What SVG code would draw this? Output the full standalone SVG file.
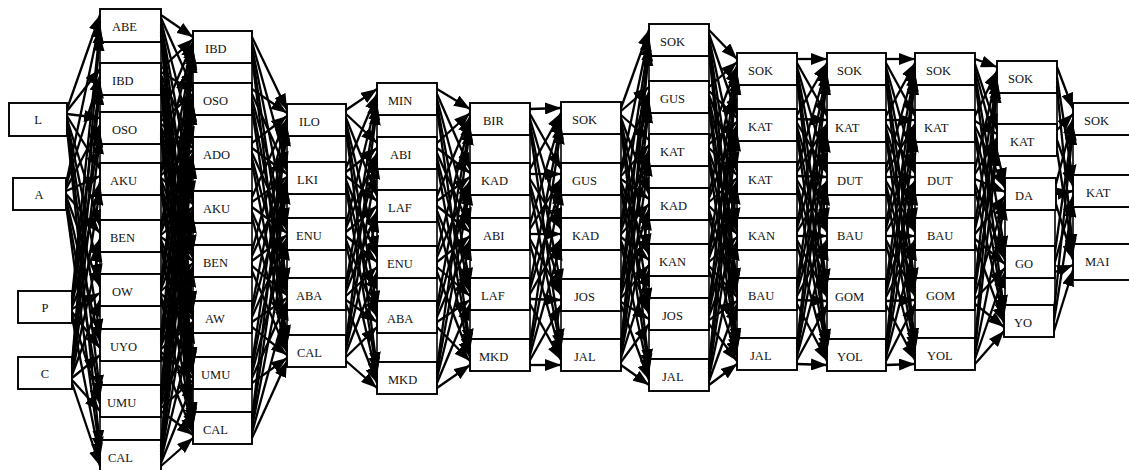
<svg xmlns="http://www.w3.org/2000/svg" width="1129" height="470" viewBox="0 0 1129 470" font-family="Liberation Serif, Times New Roman, serif">
<style>
  .n rect { fill: #fff; stroke: #000; stroke-width: 1.9; }
  .gap { fill: #fff; stroke: #000; stroke-width: 1.6; }
  text { font-family: "Liberation Serif", "Times New Roman", "DejaVu Serif", serif; font-size: 12.5px; fill: #111; }
  .c { text-anchor: middle; }
  #edges line { stroke: #000; stroke-width: 2.3; marker-end: url(#ah); }
</style>
<defs>
  <marker id="ah" markerUnits="userSpaceOnUse" markerWidth="17" markerHeight="12" refX="16" refY="6" orient="auto">
    <path d="M0,0 L16,6 L0,12 z" fill="#000"/>
  </marker>
</defs>
<rect width="1129" height="470" fill="#fff"/>

<!-- spacer cells stacked between the boxes of each column -->
<g id="gaps">
  <rect class="gap" x="100" y="42" width="61" height="21"/>
  <rect class="gap" x="100" y="95" width="61" height="17"/>
  <rect class="gap" x="100" y="144" width="61" height="19"/>
  <rect class="gap" x="100" y="195" width="61" height="25"/>
  <rect class="gap" x="100" y="252" width="61" height="22"/>
  <rect class="gap" x="100" y="306" width="61" height="23"/>
  <rect class="gap" x="100" y="361" width="61" height="24"/>
  <rect class="gap" x="100" y="417" width="61" height="23"/>

  <rect class="gap" x="193" y="63" width="59" height="20"/>
  <rect class="gap" x="193" y="115" width="59" height="22"/>
  <rect class="gap" x="193" y="169" width="59" height="22"/>
  <rect class="gap" x="193" y="223" width="59" height="22"/>
  <rect class="gap" x="193" y="277" width="59" height="24"/>
  <rect class="gap" x="193" y="333" width="59" height="24"/>
  <rect class="gap" x="193" y="389" width="59" height="23"/>

  <rect class="gap" x="287" y="136" width="59" height="26"/>
  <rect class="gap" x="287" y="194" width="59" height="24"/>
  <rect class="gap" x="287" y="250" width="59" height="28"/>
  <rect class="gap" x="287" y="310" width="59" height="25"/>

  <rect class="gap" x="377" y="115" width="60" height="22"/>
  <rect class="gap" x="377" y="169" width="60" height="21"/>
  <rect class="gap" x="377" y="222" width="60" height="24"/>
  <rect class="gap" x="377" y="278" width="60" height="23"/>
  <rect class="gap" x="377" y="333" width="60" height="29"/>

  <rect class="gap" x="470" y="135" width="60" height="28"/>
  <rect class="gap" x="470" y="195" width="60" height="23"/>
  <rect class="gap" x="470" y="250" width="60" height="28"/>
  <rect class="gap" x="470" y="310" width="60" height="29"/>

  <rect class="gap" x="561" y="134" width="60" height="29"/>
  <rect class="gap" x="561" y="195" width="60" height="23"/>
  <rect class="gap" x="561" y="250" width="60" height="29"/>
  <rect class="gap" x="561" y="311" width="60" height="28"/>

  <rect class="gap" x="649" y="56" width="60" height="25"/>
  <rect class="gap" x="649" y="113" width="60" height="21"/>
  <rect class="gap" x="649" y="166" width="60" height="22"/>
  <rect class="gap" x="649" y="220" width="60" height="24"/>
  <rect class="gap" x="649" y="276" width="60" height="22"/>
  <rect class="gap" x="649" y="330" width="60" height="29"/>

  <rect class="gap" x="737" y="85" width="60" height="24"/>
  <rect class="gap" x="737" y="141" width="60" height="21"/>
  <rect class="gap" x="737" y="194" width="60" height="24"/>
  <rect class="gap" x="737" y="250" width="60" height="28"/>
  <rect class="gap" x="737" y="310" width="60" height="28"/>

  <rect class="gap" x="827" y="85" width="59" height="25"/>
  <rect class="gap" x="827" y="142" width="59" height="21"/>
  <rect class="gap" x="827" y="195" width="59" height="23"/>
  <rect class="gap" x="827" y="250" width="59" height="29"/>
  <rect class="gap" x="827" y="311" width="59" height="28"/>

  <rect class="gap" x="915" y="85" width="60" height="25"/>
  <rect class="gap" x="915" y="142" width="60" height="21"/>
  <rect class="gap" x="915" y="195" width="60" height="23"/>
  <rect class="gap" x="915" y="250" width="60" height="28"/>
  <rect class="gap" x="915" y="310" width="60" height="28"/>

  <rect class="gap" x="997" y="93" width="60" height="31"/>
  <rect class="gap" x="1005" y="210" width="50" height="36"/>
  <rect class="gap" x="1005" y="278" width="50" height="27"/>

  <rect class="gap" x="1073" y="135" width="58" height="40"/>
  <rect class="gap" x="1073" y="207" width="58" height="37"/>
</g>

<!-- inputs -->
<g id="in-L" class="n"><rect x="9" y="103" width="58" height="33"/><text class="c" x="38" y="124">L</text></g>
<g id="in-A" class="n"><rect x="13" y="178" width="53" height="32"/><text class="c" x="39" y="199">A</text></g>
<g id="in-P" class="n"><rect x="18" y="291" width="54" height="32"/><text class="c" x="45" y="312">P</text></g>
<g id="in-C" class="n"><rect x="18" y="357" width="54" height="32"/><text class="c" x="45" y="378">C</text></g>

<!-- column 2 -->
<g id="c2-ABE" class="n"><rect x="100" y="9" width="61" height="33"/><text x="112" y="31">ABE</text></g>
<g id="c2-IBD" class="n"><rect x="100" y="63" width="61" height="32"/><text x="112" y="85">IBD</text></g>
<g id="c2-OSO" class="n"><rect x="100" y="112" width="61" height="32"/><text x="112" y="134">OSO</text></g>
<g id="c2-AKU" class="n"><rect x="100" y="163" width="61" height="32"/><text x="110" y="185">AKU</text></g>
<g id="c2-BEN" class="n"><rect x="100" y="220" width="61" height="32"/><text x="110" y="242">BEN</text></g>
<g id="c2-OW" class="n"><rect x="100" y="274" width="61" height="32"/><text x="112" y="296">OW</text></g>
<g id="c2-UYO" class="n"><rect x="100" y="329" width="61" height="32"/><text x="110" y="351">UYO</text></g>
<g id="c2-UMU" class="n"><rect x="100" y="385" width="61" height="32"/><text x="107" y="407">UMU</text></g>
<g id="c2-CAL" class="n"><rect x="100" y="440" width="61" height="34"/><text x="108" y="462">CAL</text></g>

<!-- column 3 -->
<g id="c3-IBD" class="n"><rect x="193" y="31" width="59" height="32"/><text x="205" y="53">IBD</text></g>
<g id="c3-OSO" class="n"><rect x="193" y="83" width="59" height="32"/><text x="203" y="105">OSO</text></g>
<g id="c3-ADO" class="n"><rect x="193" y="137" width="59" height="32"/><text x="203" y="159">ADO</text></g>
<g id="c3-AKU" class="n"><rect x="193" y="191" width="59" height="32"/><text x="203" y="213">AKU</text></g>
<g id="c3-BEN" class="n"><rect x="193" y="245" width="59" height="32"/><text x="203" y="267">BEN</text></g>
<g id="c3-AW" class="n"><rect x="193" y="301" width="59" height="32"/><text x="205" y="323">AW</text></g>
<g id="c3-UMU" class="n"><rect x="193" y="357" width="59" height="32"/><text x="201" y="379">UMU</text></g>
<g id="c3-CAL" class="n"><rect x="193" y="412" width="59" height="32"/><text x="203" y="434">CAL</text></g>

<!-- column 4 -->
<g id="c4-ILO" class="n"><rect x="287" y="104" width="59" height="32"/><text x="299" y="126">ILO</text></g>
<g id="c4-LKI" class="n"><rect x="287" y="162" width="59" height="32"/><text x="297" y="184">LKI</text></g>
<g id="c4-ENU" class="n"><rect x="287" y="218" width="59" height="32"/><text x="296" y="240">ENU</text></g>
<g id="c4-ABA" class="n"><rect x="287" y="278" width="59" height="32"/><text x="296" y="300">ABA</text></g>
<g id="c4-CAL" class="n"><rect x="287" y="335" width="59" height="32"/><text x="297" y="357">CAL</text></g>

<!-- column 5 -->
<g id="c5-MIN" class="n"><rect x="377" y="83" width="60" height="32"/><text x="388" y="105">MIN</text></g>
<g id="c5-ABI" class="n"><rect x="377" y="137" width="60" height="32"/><text x="390" y="159">ABI</text></g>
<g id="c5-LAF" class="n"><rect x="377" y="190" width="60" height="32"/><text x="388" y="212">LAF</text></g>
<g id="c5-ENU" class="n"><rect x="377" y="246" width="60" height="32"/><text x="387" y="268">ENU</text></g>
<g id="c5-ABA" class="n"><rect x="377" y="301" width="60" height="32"/><text x="387" y="323">ABA</text></g>
<g id="c5-MKD" class="n"><rect x="377" y="362" width="60" height="32"/><text x="388" y="384">MKD</text></g>

<!-- column 6 -->
<g id="c6-BIR" class="n"><rect x="470" y="103" width="60" height="32"/><text x="483" y="125">BIR</text></g>
<g id="c6-KAD" class="n"><rect x="470" y="163" width="60" height="32"/><text x="481" y="185">KAD</text></g>
<g id="c6-ABI" class="n"><rect x="470" y="218" width="60" height="32"/><text x="483" y="240">ABI</text></g>
<g id="c6-LAF" class="n"><rect x="470" y="278" width="60" height="32"/><text x="481" y="300">LAF</text></g>
<g id="c6-MKD" class="n"><rect x="470" y="339" width="60" height="32"/><text x="479" y="361">MKD</text></g>

<!-- column 7 -->
<g id="c7-SOK" class="n"><rect x="561" y="102" width="60" height="32"/><text x="572" y="124">SOK</text></g>
<g id="c7-GUS" class="n"><rect x="561" y="163" width="60" height="32"/><text x="572" y="185">GUS</text></g>
<g id="c7-KAD" class="n"><rect x="561" y="218" width="60" height="32"/><text x="572" y="240">KAD</text></g>
<g id="c7-JOS" class="n"><rect x="561" y="279" width="60" height="32"/><text x="574" y="301">JOS</text></g>
<g id="c7-JAL" class="n"><rect x="561" y="339" width="60" height="32"/><text x="574" y="361">JAL</text></g>

<!-- column 8 -->
<g id="c8-SOK" class="n"><rect x="649" y="24" width="60" height="32"/><text x="660" y="46">SOK</text></g>
<g id="c8-GUS" class="n"><rect x="649" y="81" width="60" height="32"/><text x="660" y="103">GUS</text></g>
<g id="c8-KAT" class="n"><rect x="649" y="134" width="60" height="32"/><text x="660" y="156">KAT</text></g>
<g id="c8-KAD" class="n"><rect x="649" y="188" width="60" height="32"/><text x="660" y="210">KAD</text></g>
<g id="c8-KAN" class="n"><rect x="649" y="244" width="60" height="32"/><text x="659" y="266">KAN</text></g>
<g id="c8-JOS" class="n"><rect x="649" y="298" width="60" height="32"/><text x="662" y="320">JOS</text></g>
<g id="c8-JAL" class="n"><rect x="649" y="359" width="60" height="32"/><text x="662" y="381">JAL</text></g>

<!-- column 9 -->
<g id="c9-SOK" class="n"><rect x="737" y="53" width="60" height="32"/><text x="748" y="75">SOK</text></g>
<g id="c9-KAT1" class="n"><rect x="737" y="109" width="60" height="32"/><text x="748" y="131">KAT</text></g>
<g id="c9-KAT2" class="n"><rect x="737" y="162" width="60" height="32"/><text x="748" y="184">KAT</text></g>
<g id="c9-KAN" class="n"><rect x="737" y="218" width="60" height="32"/><text x="748" y="240">KAN</text></g>
<g id="c9-BAU" class="n"><rect x="737" y="278" width="60" height="32"/><text x="748" y="300">BAU</text></g>
<g id="c9-JAL" class="n"><rect x="737" y="338" width="60" height="32"/><text x="750" y="360">JAL</text></g>

<!-- column 10 -->
<g id="c10-SOK" class="n"><rect x="827" y="53" width="59" height="32"/><text x="837" y="75">SOK</text></g>
<g id="c10-KAT" class="n"><rect x="827" y="110" width="59" height="32"/><text x="835" y="132">KAT</text></g>
<g id="c10-DUT" class="n"><rect x="827" y="163" width="59" height="32"/><text x="837" y="185">DUT</text></g>
<g id="c10-BAU" class="n"><rect x="827" y="218" width="59" height="32"/><text x="837" y="240">BAU</text></g>
<g id="c10-GOM" class="n"><rect x="827" y="279" width="59" height="32"/><text x="835" y="301">GOM</text></g>
<g id="c10-YOL" class="n"><rect x="827" y="339" width="59" height="32"/><text x="837" y="361">YOL</text></g>

<!-- column 11 -->
<g id="c11-SOK" class="n"><rect x="915" y="53" width="60" height="32"/><text x="926" y="75">SOK</text></g>
<g id="c11-KAT" class="n"><rect x="915" y="110" width="60" height="32"/><text x="924" y="132">KAT</text></g>
<g id="c11-DUT" class="n"><rect x="915" y="163" width="60" height="32"/><text x="927" y="185">DUT</text></g>
<g id="c11-BAU" class="n"><rect x="915" y="218" width="60" height="32"/><text x="927" y="240">BAU</text></g>
<g id="c11-GOM" class="n"><rect x="915" y="278" width="60" height="32"/><text x="926" y="300">GOM</text></g>
<g id="c11-YOL" class="n"><rect x="915" y="338" width="60" height="32"/><text x="927" y="360">YOL</text></g>

<!-- column 12 -->
<g id="c12-SOK" class="n"><rect x="997" y="61" width="60" height="32"/><text x="1008" y="83">SOK</text></g>
<g id="c12-KAT" class="n"><rect x="997" y="124" width="60" height="32"/><text x="1010" y="146">KAT</text></g>
<g id="c12-DA" class="n"><rect x="1005" y="178" width="51" height="32"/><text x="1015" y="200">DA</text></g>
<g id="c12-GO" class="n"><rect x="1005" y="246" width="50" height="32"/><text x="1015" y="268">GO</text></g>
<g id="c12-YO" class="n"><rect x="1004" y="305" width="50" height="32"/><text x="1014" y="327">YO</text></g>

<!-- column 13 -->
<g id="c13-SOK" class="n"><rect x="1073" y="103" width="58" height="32"/><text x="1084" y="125">SOK</text></g>
<g id="c13-KAT" class="n"><rect x="1073" y="175" width="58" height="32"/><text x="1086" y="197">KAT</text></g>
<g id="c13-MAI" class="n"><rect x="1073" y="244" width="58" height="36"/><text x="1085" y="266">MAI</text></g>

<g id="edges">
  <!-- inputs to column 2 -->
  <line x1="67" y1="109" x2="100" y2="15"/><line x1="67" y1="111" x2="100" y2="69"/><line x1="67" y1="114" x2="100" y2="118"/>
  <line x1="67" y1="116" x2="100" y2="169"/><line x1="67" y1="119" x2="100" y2="226"/><line x1="67" y1="121" x2="100" y2="280"/>
  <line x1="67" y1="124" x2="100" y2="335"/><line x1="67" y1="126" x2="100" y2="391"/><line x1="67" y1="129" x2="100" y2="446"/>
  <line x1="66" y1="184" x2="100" y2="22"/><line x1="66" y1="186" x2="100" y2="76"/><line x1="66" y1="189" x2="100" y2="125"/>
  <line x1="66" y1="191" x2="100" y2="176"/><line x1="66" y1="194" x2="100" y2="233"/><line x1="66" y1="196" x2="100" y2="287"/>
  <line x1="66" y1="199" x2="100" y2="342"/><line x1="66" y1="201" x2="100" y2="398"/><line x1="66" y1="204" x2="100" y2="453"/>
  <line x1="72" y1="297" x2="100" y2="28"/><line x1="72" y1="299" x2="100" y2="82"/><line x1="72" y1="302" x2="100" y2="131"/>
  <line x1="72" y1="304" x2="100" y2="182"/><line x1="72" y1="307" x2="100" y2="239"/><line x1="72" y1="309" x2="100" y2="293"/>
  <line x1="72" y1="312" x2="100" y2="348"/><line x1="72" y1="314" x2="100" y2="404"/><line x1="72" y1="317" x2="100" y2="459"/>
  <line x1="72" y1="363" x2="100" y2="35"/><line x1="72" y1="365" x2="100" y2="89"/><line x1="72" y1="368" x2="100" y2="138"/>
  <line x1="72" y1="370" x2="100" y2="189"/><line x1="72" y1="373" x2="100" y2="246"/><line x1="72" y1="375" x2="100" y2="300"/>
  <line x1="72" y1="378" x2="100" y2="355"/><line x1="72" y1="380" x2="100" y2="411"/><line x1="72" y1="383" x2="100" y2="466"/>

  <!-- column 2 to column 3 -->
  <line x1="161" y1="15" x2="193" y2="37"/><line x1="161" y1="18" x2="193" y2="89"/><line x1="161" y1="21" x2="193" y2="143"/><line x1="161" y1="24" x2="193" y2="197"/>
  <line x1="161" y1="26" x2="193" y2="251"/><line x1="161" y1="29" x2="193" y2="307"/><line x1="161" y1="32" x2="193" y2="363"/><line x1="161" y1="35" x2="193" y2="418"/>
  <line x1="161" y1="69" x2="193" y2="39"/><line x1="161" y1="72" x2="193" y2="91"/><line x1="161" y1="75" x2="193" y2="145"/><line x1="161" y1="78" x2="193" y2="199"/>
  <line x1="161" y1="80" x2="193" y2="253"/><line x1="161" y1="83" x2="193" y2="309"/><line x1="161" y1="86" x2="193" y2="365"/><line x1="161" y1="89" x2="193" y2="420"/>
  <line x1="161" y1="118" x2="193" y2="42"/><line x1="161" y1="121" x2="193" y2="94"/><line x1="161" y1="124" x2="193" y2="148"/><line x1="161" y1="127" x2="193" y2="202"/>
  <line x1="161" y1="129" x2="193" y2="256"/><line x1="161" y1="132" x2="193" y2="312"/><line x1="161" y1="135" x2="193" y2="368"/><line x1="161" y1="138" x2="193" y2="423"/>
  <line x1="161" y1="169" x2="193" y2="44"/><line x1="161" y1="172" x2="193" y2="96"/><line x1="161" y1="175" x2="193" y2="150"/><line x1="161" y1="178" x2="193" y2="204"/>
  <line x1="161" y1="180" x2="193" y2="258"/><line x1="161" y1="183" x2="193" y2="314"/><line x1="161" y1="186" x2="193" y2="370"/><line x1="161" y1="189" x2="193" y2="425"/>
  <line x1="161" y1="226" x2="193" y2="47"/><line x1="161" y1="229" x2="193" y2="99"/><line x1="161" y1="232" x2="193" y2="153"/><line x1="161" y1="235" x2="193" y2="207"/>
  <line x1="161" y1="237" x2="193" y2="261"/><line x1="161" y1="240" x2="193" y2="317"/><line x1="161" y1="243" x2="193" y2="373"/><line x1="161" y1="246" x2="193" y2="428"/>
  <line x1="161" y1="280" x2="193" y2="49"/><line x1="161" y1="283" x2="193" y2="101"/><line x1="161" y1="286" x2="193" y2="155"/><line x1="161" y1="289" x2="193" y2="209"/>
  <line x1="161" y1="291" x2="193" y2="263"/><line x1="161" y1="294" x2="193" y2="319"/><line x1="161" y1="297" x2="193" y2="375"/><line x1="161" y1="300" x2="193" y2="430"/>
  <line x1="161" y1="335" x2="193" y2="52"/><line x1="161" y1="338" x2="193" y2="104"/><line x1="161" y1="341" x2="193" y2="158"/><line x1="161" y1="344" x2="193" y2="212"/>
  <line x1="161" y1="346" x2="193" y2="266"/><line x1="161" y1="349" x2="193" y2="322"/><line x1="161" y1="352" x2="193" y2="378"/><line x1="161" y1="355" x2="193" y2="433"/>
  <line x1="161" y1="391" x2="193" y2="54"/><line x1="161" y1="394" x2="193" y2="106"/><line x1="161" y1="397" x2="193" y2="160"/><line x1="161" y1="400" x2="193" y2="214"/>
  <line x1="161" y1="402" x2="193" y2="268"/><line x1="161" y1="405" x2="193" y2="324"/><line x1="161" y1="408" x2="193" y2="380"/><line x1="161" y1="411" x2="193" y2="435"/>
  <line x1="161" y1="446" x2="193" y2="57"/><line x1="161" y1="449" x2="193" y2="109"/><line x1="161" y1="452" x2="193" y2="163"/><line x1="161" y1="455" x2="193" y2="217"/>
  <line x1="161" y1="457" x2="193" y2="271"/><line x1="161" y1="460" x2="193" y2="327"/><line x1="161" y1="463" x2="193" y2="383"/><line x1="161" y1="466" x2="193" y2="438"/>

  <!-- column 3 to column 4 -->
  <line x1="252" y1="37" x2="287" y2="110"/><line x1="252" y1="42" x2="287" y2="168"/><line x1="252" y1="47" x2="287" y2="224"/><line x1="252" y1="52" x2="287" y2="284"/><line x1="252" y1="57" x2="287" y2="341"/>
  <line x1="252" y1="89" x2="287" y2="113"/><line x1="252" y1="94" x2="287" y2="171"/><line x1="252" y1="99" x2="287" y2="227"/><line x1="252" y1="104" x2="287" y2="287"/><line x1="252" y1="109" x2="287" y2="344"/>
  <line x1="252" y1="143" x2="287" y2="116"/><line x1="252" y1="148" x2="287" y2="174"/><line x1="252" y1="153" x2="287" y2="230"/><line x1="252" y1="158" x2="287" y2="290"/><line x1="252" y1="163" x2="287" y2="347"/>
  <line x1="252" y1="197" x2="287" y2="119"/><line x1="252" y1="202" x2="287" y2="177"/><line x1="252" y1="207" x2="287" y2="233"/><line x1="252" y1="212" x2="287" y2="293"/><line x1="252" y1="217" x2="287" y2="350"/>
  <line x1="252" y1="251" x2="287" y2="121"/><line x1="252" y1="256" x2="287" y2="179"/><line x1="252" y1="261" x2="287" y2="235"/><line x1="252" y1="266" x2="287" y2="295"/><line x1="252" y1="271" x2="287" y2="352"/>
  <line x1="252" y1="307" x2="287" y2="124"/><line x1="252" y1="312" x2="287" y2="182"/><line x1="252" y1="317" x2="287" y2="238"/><line x1="252" y1="322" x2="287" y2="298"/><line x1="252" y1="327" x2="287" y2="355"/>
  <line x1="252" y1="363" x2="287" y2="127"/><line x1="252" y1="368" x2="287" y2="185"/><line x1="252" y1="373" x2="287" y2="241"/><line x1="252" y1="378" x2="287" y2="301"/><line x1="252" y1="383" x2="287" y2="358"/>
  <line x1="252" y1="418" x2="287" y2="130"/><line x1="252" y1="423" x2="287" y2="188"/><line x1="252" y1="428" x2="287" y2="244"/><line x1="252" y1="433" x2="287" y2="304"/><line x1="252" y1="438" x2="287" y2="361"/>

  <!-- column 4 to column 5 -->
  <line x1="346" y1="110" x2="377" y2="89"/><line x1="346" y1="114" x2="377" y2="143"/><line x1="346" y1="118" x2="377" y2="196"/><line x1="346" y1="122" x2="377" y2="252"/><line x1="346" y1="126" x2="377" y2="307"/><line x1="346" y1="130" x2="377" y2="368"/>
  <line x1="346" y1="168" x2="377" y2="94"/><line x1="346" y1="172" x2="377" y2="148"/><line x1="346" y1="176" x2="377" y2="201"/><line x1="346" y1="180" x2="377" y2="257"/><line x1="346" y1="184" x2="377" y2="312"/><line x1="346" y1="188" x2="377" y2="373"/>
  <line x1="346" y1="224" x2="377" y2="99"/><line x1="346" y1="228" x2="377" y2="153"/><line x1="346" y1="232" x2="377" y2="206"/><line x1="346" y1="236" x2="377" y2="262"/><line x1="346" y1="240" x2="377" y2="317"/><line x1="346" y1="244" x2="377" y2="378"/>
  <line x1="346" y1="284" x2="377" y2="104"/><line x1="346" y1="288" x2="377" y2="158"/><line x1="346" y1="292" x2="377" y2="211"/><line x1="346" y1="296" x2="377" y2="267"/><line x1="346" y1="300" x2="377" y2="322"/><line x1="346" y1="304" x2="377" y2="383"/>
  <line x1="346" y1="341" x2="377" y2="109"/><line x1="346" y1="345" x2="377" y2="163"/><line x1="346" y1="349" x2="377" y2="216"/><line x1="346" y1="353" x2="377" y2="272"/><line x1="346" y1="357" x2="377" y2="327"/><line x1="346" y1="361" x2="377" y2="388"/>

  <!-- column 5 to column 6 -->
  <line x1="437" y1="89" x2="470" y2="109"/><line x1="437" y1="94" x2="470" y2="169"/><line x1="437" y1="99" x2="470" y2="224"/><line x1="437" y1="104" x2="470" y2="284"/><line x1="437" y1="109" x2="470" y2="345"/>
  <line x1="437" y1="143" x2="470" y2="113"/><line x1="437" y1="148" x2="470" y2="173"/><line x1="437" y1="153" x2="470" y2="228"/><line x1="437" y1="158" x2="470" y2="288"/><line x1="437" y1="163" x2="470" y2="349"/>
  <line x1="437" y1="196" x2="470" y2="117"/><line x1="437" y1="201" x2="470" y2="177"/><line x1="437" y1="206" x2="470" y2="232"/><line x1="437" y1="211" x2="470" y2="292"/><line x1="437" y1="216" x2="470" y2="353"/>
  <line x1="437" y1="252" x2="470" y2="121"/><line x1="437" y1="257" x2="470" y2="181"/><line x1="437" y1="262" x2="470" y2="236"/><line x1="437" y1="267" x2="470" y2="296"/><line x1="437" y1="272" x2="470" y2="357"/>
  <line x1="437" y1="307" x2="470" y2="125"/><line x1="437" y1="312" x2="470" y2="185"/><line x1="437" y1="317" x2="470" y2="240"/><line x1="437" y1="322" x2="470" y2="300"/><line x1="437" y1="327" x2="470" y2="361"/>
  <line x1="437" y1="368" x2="470" y2="129"/><line x1="437" y1="373" x2="470" y2="189"/><line x1="437" y1="378" x2="470" y2="244"/><line x1="437" y1="383" x2="470" y2="304"/><line x1="437" y1="388" x2="470" y2="365"/>

  <!-- column 6 to column 7 -->
  <line x1="530" y1="109" x2="561" y2="108"/><line x1="530" y1="114" x2="561" y2="169"/><line x1="530" y1="119" x2="561" y2="224"/><line x1="530" y1="124" x2="561" y2="285"/><line x1="530" y1="129" x2="561" y2="345"/>
  <line x1="530" y1="169" x2="561" y2="113"/><line x1="530" y1="174" x2="561" y2="174"/><line x1="530" y1="179" x2="561" y2="229"/><line x1="530" y1="184" x2="561" y2="290"/><line x1="530" y1="189" x2="561" y2="350"/>
  <line x1="530" y1="224" x2="561" y2="118"/><line x1="530" y1="229" x2="561" y2="179"/><line x1="530" y1="234" x2="561" y2="234"/><line x1="530" y1="239" x2="561" y2="295"/><line x1="530" y1="244" x2="561" y2="355"/>
  <line x1="530" y1="284" x2="561" y2="123"/><line x1="530" y1="289" x2="561" y2="184"/><line x1="530" y1="294" x2="561" y2="239"/><line x1="530" y1="299" x2="561" y2="300"/><line x1="530" y1="304" x2="561" y2="360"/>
  <line x1="530" y1="345" x2="561" y2="128"/><line x1="530" y1="350" x2="561" y2="189"/><line x1="530" y1="355" x2="561" y2="244"/><line x1="530" y1="360" x2="561" y2="305"/><line x1="530" y1="365" x2="561" y2="365"/>

  <!-- column 7 to column 8 -->
  <line x1="621" y1="108" x2="649" y2="30"/><line x1="621" y1="111" x2="649" y2="87"/><line x1="621" y1="115" x2="649" y2="140"/><line x1="621" y1="118" x2="649" y2="194"/><line x1="621" y1="121" x2="649" y2="250"/><line x1="621" y1="125" x2="649" y2="304"/><line x1="621" y1="128" x2="649" y2="365"/>
  <line x1="621" y1="169" x2="649" y2="35"/><line x1="621" y1="172" x2="649" y2="92"/><line x1="621" y1="176" x2="649" y2="145"/><line x1="621" y1="179" x2="649" y2="199"/><line x1="621" y1="182" x2="649" y2="255"/><line x1="621" y1="186" x2="649" y2="309"/><line x1="621" y1="189" x2="649" y2="370"/>
  <line x1="621" y1="224" x2="649" y2="40"/><line x1="621" y1="227" x2="649" y2="97"/><line x1="621" y1="231" x2="649" y2="150"/><line x1="621" y1="234" x2="649" y2="204"/><line x1="621" y1="237" x2="649" y2="260"/><line x1="621" y1="241" x2="649" y2="314"/><line x1="621" y1="244" x2="649" y2="375"/>
  <line x1="621" y1="285" x2="649" y2="45"/><line x1="621" y1="288" x2="649" y2="102"/><line x1="621" y1="292" x2="649" y2="155"/><line x1="621" y1="295" x2="649" y2="209"/><line x1="621" y1="298" x2="649" y2="265"/><line x1="621" y1="302" x2="649" y2="319"/><line x1="621" y1="305" x2="649" y2="380"/>
  <line x1="621" y1="345" x2="649" y2="50"/><line x1="621" y1="348" x2="649" y2="107"/><line x1="621" y1="352" x2="649" y2="160"/><line x1="621" y1="355" x2="649" y2="214"/><line x1="621" y1="358" x2="649" y2="270"/><line x1="621" y1="362" x2="649" y2="324"/><line x1="621" y1="365" x2="649" y2="385"/>

  <!-- column 8 to column 9 -->
  <line x1="709" y1="30" x2="737" y2="59"/><line x1="709" y1="34" x2="737" y2="115"/><line x1="709" y1="38" x2="737" y2="168"/><line x1="709" y1="42" x2="737" y2="224"/><line x1="709" y1="46" x2="737" y2="284"/><line x1="709" y1="50" x2="737" y2="344"/>
  <line x1="709" y1="87" x2="737" y2="62"/><line x1="709" y1="91" x2="737" y2="118"/><line x1="709" y1="95" x2="737" y2="171"/><line x1="709" y1="99" x2="737" y2="227"/><line x1="709" y1="103" x2="737" y2="287"/><line x1="709" y1="107" x2="737" y2="347"/>
  <line x1="709" y1="140" x2="737" y2="66"/><line x1="709" y1="144" x2="737" y2="122"/><line x1="709" y1="148" x2="737" y2="175"/><line x1="709" y1="152" x2="737" y2="231"/><line x1="709" y1="156" x2="737" y2="291"/><line x1="709" y1="160" x2="737" y2="351"/>
  <line x1="709" y1="194" x2="737" y2="69"/><line x1="709" y1="198" x2="737" y2="125"/><line x1="709" y1="202" x2="737" y2="178"/><line x1="709" y1="206" x2="737" y2="234"/><line x1="709" y1="210" x2="737" y2="294"/><line x1="709" y1="214" x2="737" y2="354"/>
  <line x1="709" y1="250" x2="737" y2="72"/><line x1="709" y1="254" x2="737" y2="128"/><line x1="709" y1="258" x2="737" y2="181"/><line x1="709" y1="262" x2="737" y2="237"/><line x1="709" y1="266" x2="737" y2="297"/><line x1="709" y1="270" x2="737" y2="357"/>
  <line x1="709" y1="304" x2="737" y2="76"/><line x1="709" y1="308" x2="737" y2="132"/><line x1="709" y1="312" x2="737" y2="185"/><line x1="709" y1="316" x2="737" y2="241"/><line x1="709" y1="320" x2="737" y2="301"/><line x1="709" y1="324" x2="737" y2="361"/>
  <line x1="709" y1="365" x2="737" y2="79"/><line x1="709" y1="369" x2="737" y2="135"/><line x1="709" y1="373" x2="737" y2="188"/><line x1="709" y1="377" x2="737" y2="244"/><line x1="709" y1="381" x2="737" y2="304"/><line x1="709" y1="385" x2="737" y2="364"/>

  <!-- column 9 to column 10 -->
  <line x1="797" y1="59" x2="827" y2="59"/><line x1="797" y1="63" x2="827" y2="116"/><line x1="797" y1="67" x2="827" y2="169"/><line x1="797" y1="71" x2="827" y2="224"/><line x1="797" y1="75" x2="827" y2="285"/><line x1="797" y1="79" x2="827" y2="345"/>
  <line x1="797" y1="115" x2="827" y2="63"/><line x1="797" y1="119" x2="827" y2="120"/><line x1="797" y1="123" x2="827" y2="173"/><line x1="797" y1="127" x2="827" y2="228"/><line x1="797" y1="131" x2="827" y2="289"/><line x1="797" y1="135" x2="827" y2="349"/>
  <line x1="797" y1="168" x2="827" y2="67"/><line x1="797" y1="172" x2="827" y2="124"/><line x1="797" y1="176" x2="827" y2="177"/><line x1="797" y1="180" x2="827" y2="232"/><line x1="797" y1="184" x2="827" y2="293"/><line x1="797" y1="188" x2="827" y2="353"/>
  <line x1="797" y1="224" x2="827" y2="71"/><line x1="797" y1="228" x2="827" y2="128"/><line x1="797" y1="232" x2="827" y2="181"/><line x1="797" y1="236" x2="827" y2="236"/><line x1="797" y1="240" x2="827" y2="297"/><line x1="797" y1="244" x2="827" y2="357"/>
  <line x1="797" y1="284" x2="827" y2="75"/><line x1="797" y1="288" x2="827" y2="132"/><line x1="797" y1="292" x2="827" y2="185"/><line x1="797" y1="296" x2="827" y2="240"/><line x1="797" y1="300" x2="827" y2="301"/><line x1="797" y1="304" x2="827" y2="361"/>
  <line x1="797" y1="344" x2="827" y2="79"/><line x1="797" y1="348" x2="827" y2="136"/><line x1="797" y1="352" x2="827" y2="189"/><line x1="797" y1="356" x2="827" y2="244"/><line x1="797" y1="360" x2="827" y2="305"/><line x1="797" y1="364" x2="827" y2="365"/>

  <!-- column 10 to column 11 -->
  <line x1="886" y1="59" x2="915" y2="59"/><line x1="886" y1="63" x2="915" y2="116"/><line x1="886" y1="67" x2="915" y2="169"/><line x1="886" y1="71" x2="915" y2="224"/><line x1="886" y1="75" x2="915" y2="284"/><line x1="886" y1="79" x2="915" y2="344"/>
  <line x1="886" y1="116" x2="915" y2="63"/><line x1="886" y1="120" x2="915" y2="120"/><line x1="886" y1="124" x2="915" y2="173"/><line x1="886" y1="128" x2="915" y2="228"/><line x1="886" y1="132" x2="915" y2="288"/><line x1="886" y1="136" x2="915" y2="348"/>
  <line x1="886" y1="169" x2="915" y2="67"/><line x1="886" y1="173" x2="915" y2="124"/><line x1="886" y1="177" x2="915" y2="177"/><line x1="886" y1="181" x2="915" y2="232"/><line x1="886" y1="185" x2="915" y2="292"/><line x1="886" y1="189" x2="915" y2="352"/>
  <line x1="886" y1="224" x2="915" y2="71"/><line x1="886" y1="228" x2="915" y2="128"/><line x1="886" y1="232" x2="915" y2="181"/><line x1="886" y1="236" x2="915" y2="236"/><line x1="886" y1="240" x2="915" y2="296"/><line x1="886" y1="244" x2="915" y2="356"/>
  <line x1="886" y1="285" x2="915" y2="75"/><line x1="886" y1="289" x2="915" y2="132"/><line x1="886" y1="293" x2="915" y2="185"/><line x1="886" y1="297" x2="915" y2="240"/><line x1="886" y1="301" x2="915" y2="300"/><line x1="886" y1="305" x2="915" y2="360"/>
  <line x1="886" y1="345" x2="915" y2="79"/><line x1="886" y1="349" x2="915" y2="136"/><line x1="886" y1="353" x2="915" y2="189"/><line x1="886" y1="357" x2="915" y2="244"/><line x1="886" y1="361" x2="915" y2="304"/><line x1="886" y1="365" x2="915" y2="364"/>

  <!-- column 11 to column 12 -->
  <line x1="975" y1="59" x2="997" y2="67"/><line x1="975" y1="64" x2="997" y2="130"/><line x1="975" y1="69" x2="1005" y2="184"/><line x1="975" y1="74" x2="1005" y2="252"/><line x1="975" y1="79" x2="1004" y2="311"/>
  <line x1="975" y1="116" x2="997" y2="71"/><line x1="975" y1="121" x2="997" y2="134"/><line x1="975" y1="126" x2="1005" y2="188"/><line x1="975" y1="131" x2="1005" y2="256"/><line x1="975" y1="136" x2="1004" y2="315"/>
  <line x1="975" y1="169" x2="997" y2="75"/><line x1="975" y1="174" x2="997" y2="138"/><line x1="975" y1="179" x2="1005" y2="192"/><line x1="975" y1="184" x2="1005" y2="260"/><line x1="975" y1="189" x2="1004" y2="319"/>
  <line x1="975" y1="224" x2="997" y2="79"/><line x1="975" y1="229" x2="997" y2="142"/><line x1="975" y1="234" x2="1005" y2="196"/><line x1="975" y1="239" x2="1005" y2="264"/><line x1="975" y1="244" x2="1004" y2="323"/>
  <line x1="975" y1="284" x2="997" y2="83"/><line x1="975" y1="289" x2="997" y2="146"/><line x1="975" y1="294" x2="1005" y2="200"/><line x1="975" y1="299" x2="1005" y2="268"/><line x1="975" y1="304" x2="1004" y2="327"/>
  <line x1="975" y1="344" x2="997" y2="87"/><line x1="975" y1="349" x2="997" y2="150"/><line x1="975" y1="354" x2="1005" y2="204"/><line x1="975" y1="359" x2="1005" y2="272"/><line x1="975" y1="364" x2="1004" y2="331"/>

  <!-- column 12 to column 13 -->
  <line x1="1057" y1="67" x2="1073" y2="109"/><line x1="1057" y1="77" x2="1073" y2="181"/><line x1="1057" y1="87" x2="1073" y2="250"/>
  <line x1="1057" y1="130" x2="1073" y2="114"/><line x1="1057" y1="140" x2="1073" y2="186"/><line x1="1057" y1="150" x2="1073" y2="255"/>
  <line x1="1056" y1="184" x2="1073" y2="119"/><line x1="1056" y1="194" x2="1073" y2="191"/><line x1="1056" y1="204" x2="1073" y2="260"/>
  <line x1="1055" y1="252" x2="1073" y2="124"/><line x1="1055" y1="262" x2="1073" y2="196"/><line x1="1055" y1="272" x2="1073" y2="265"/>
  <line x1="1054" y1="311" x2="1073" y2="129"/><line x1="1054" y1="321" x2="1073" y2="201"/><line x1="1054" y1="331" x2="1073" y2="270"/>
</g>
</svg>
